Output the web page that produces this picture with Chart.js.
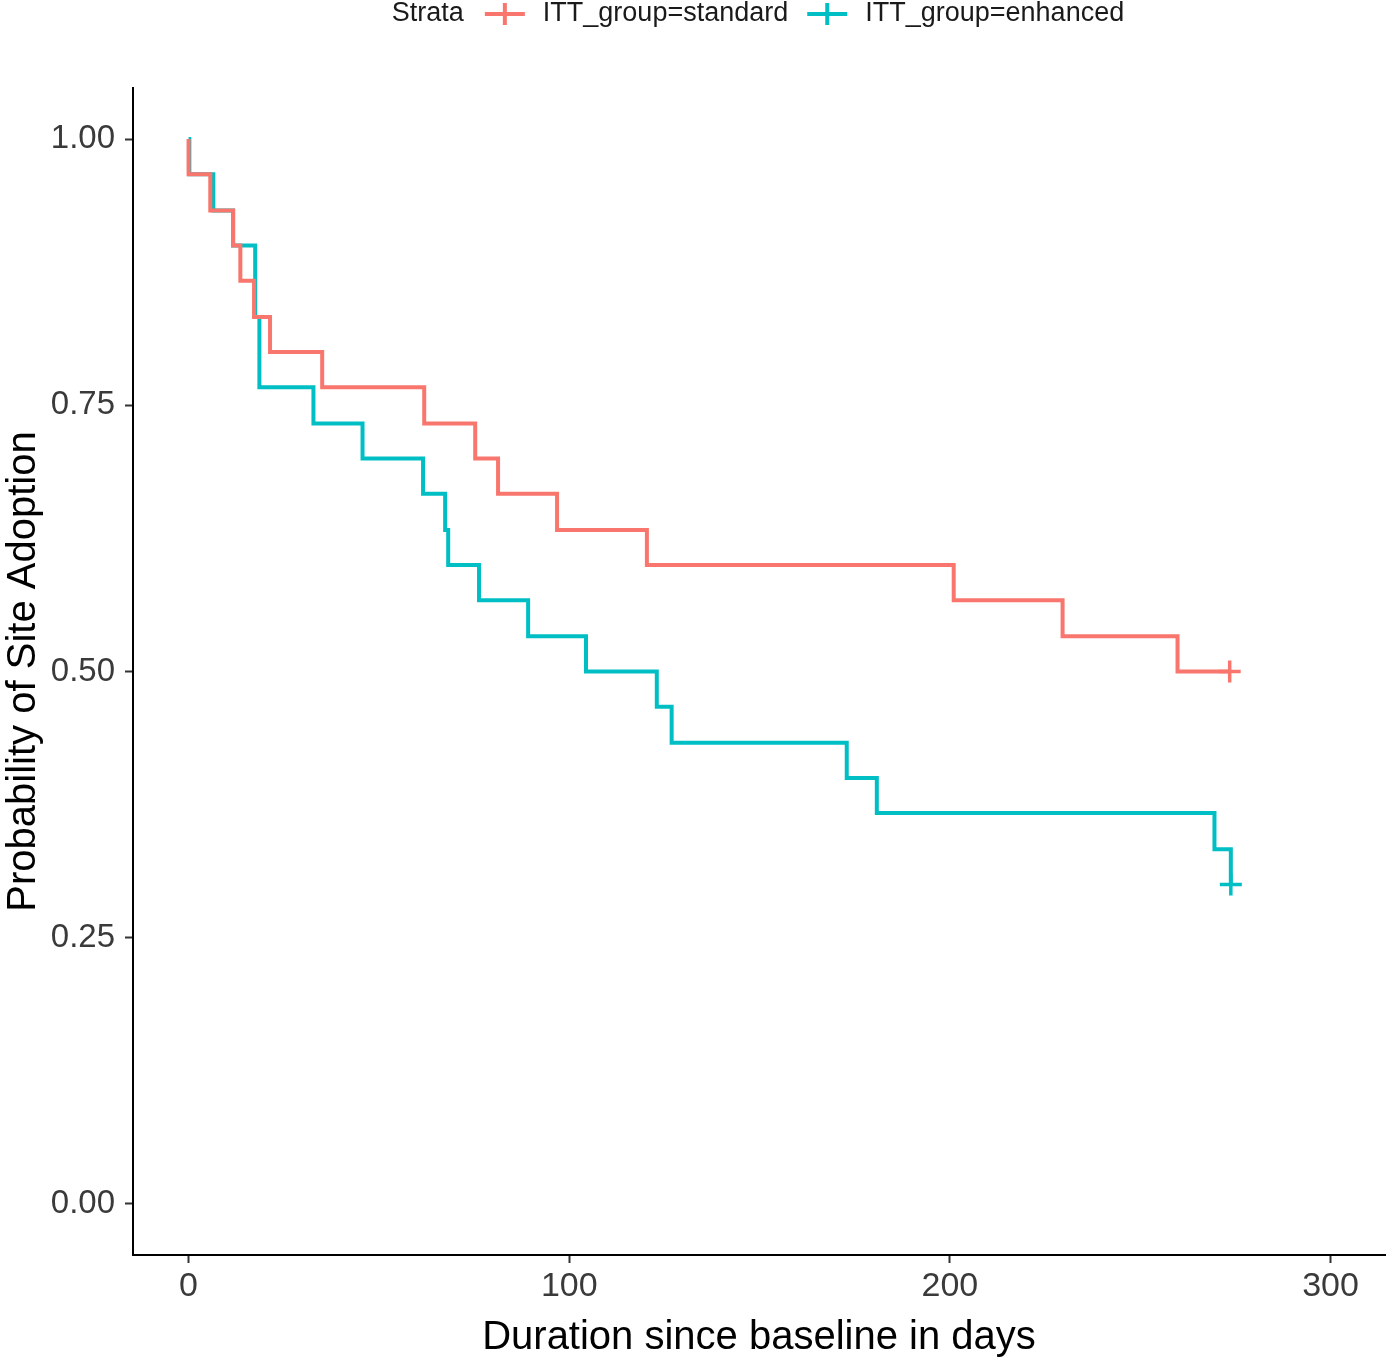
<!DOCTYPE html>
<html>
<head>
<meta charset="utf-8">
<script src="https://cdn.jsdelivr.net/npm/chart.js@4"></script>
<style>
  body { margin: 0; background: #fff; }
  #wrap { width: 1390px; height: 1362px; }
</style>
</head>
<body>
<div id="wrap"><canvas id="kmChart"></canvas></div>
<script>
// KM estimates (time in days, survival)
const stdTime = [0, 0, 5.7, 11.7, 13.6, 17.2, 21.4, 35.1, 61.9, 75.3, 81.3, 96.8, 120.4, 201, 229.6, 259.8, 273.5];
const stdSurv = [1, 0.967, 0.933, 0.9, 0.867, 0.833, 0.8, 0.767, 0.733, 0.7, 0.667, 0.633, 0.6, 0.567, 0.533, 0.5, 0.5];
const enhTime = [0, 0.2, 6.5, 11.7, 17.5, 18.6, 32.8, 45.7, 61.6, 67.4, 68.2, 76.3, 89.2, 104.4, 123, 126.9, 172.9, 180.8, 269.5, 273.8];
const enhSurv = [1, 0.967, 0.933, 0.9, 0.833, 0.767, 0.733, 0.7, 0.667, 0.633, 0.6, 0.567, 0.533, 0.5, 0.467, 0.433, 0.4, 0.367, 0.333, 0.3];
// censored observations
const stdCensor = [[273.5, 0.5]];
const enhCensor = [[273.8, 0.3]];

const xTicks = [0, 100, 200, 300];
const yTicks = [0, 0.25, 0.5, 0.75, 1];
const groups = ['ITT_group=standard', 'ITT_group=enhanced'];
const colors = ['#F8766D', '#00BFC4'];

const FONT = '"Liberation Sans", Arial, sans-serif';
const toPts = (t, s) => t.map((v, i) => ({x: v, y: s[i]}));

// legend drawn like ggplot: "Strata" then line+cross keys
const strataLegend = {
  id: 'strataLegend',
  afterDraw(chart) {
    const ctx = chart.ctx;
    const area = chart.chartArea;
    ctx.save();
    ctx.font = '27px ' + FONT;
    ctx.textBaseline = 'middle';
    const keyW = 40, gapA = 21, gapB = 18, gapC = 19;
    let total = ctx.measureText('Strata').width;
    groups.forEach((g, i) => { total += gapA + keyW + gapB + ctx.measureText(g).width; });
    let x = (area.left + area.right) / 2 - total / 2;
    const y = 14;
    ctx.fillStyle = '#1a1a1a';
    ctx.fillText('Strata', x, y);
    x += ctx.measureText('Strata').width + gapA;
    groups.forEach((g, i) => {
      ctx.strokeStyle = colors[i];
      ctx.lineWidth = 4;
      ctx.beginPath();
      ctx.moveTo(x, y); ctx.lineTo(x + keyW, y);
      ctx.moveTo(x + keyW / 2, y - 11); ctx.lineTo(x + keyW / 2, y + 11);
      ctx.stroke();
      x += keyW + gapB;
      ctx.fillStyle = '#1a1a1a';
      ctx.fillText(g, x, y);
      x += ctx.measureText(g).width + gapC;
    });
    ctx.restore();
  }
};

new Chart(document.getElementById('kmChart'), {
  type: 'line',
  data: {
    datasets: [
      {
        label: groups[0],
        data: toPts(stdTime, stdSurv),
        borderColor: colors[0],
        borderWidth: 4,
        stepped: 'before',
        pointRadius: 0
      },
      {
        label: groups[1],
        data: toPts(enhTime, enhSurv),
        borderColor: colors[1],
        borderWidth: 4,
        stepped: 'before',
        pointRadius: 0
      },
      {
        label: 'censor standard',
        data: stdCensor.map(c => ({x: c[0], y: c[1]})),
        showLine: false,
        pointStyle: 'cross',
        pointRadius: 11,
        pointBorderWidth: 3.5,
        borderColor: colors[0]
      },
      {
        label: 'censor enhanced',
        data: enhCensor.map(c => ({x: c[0], y: c[1]})),
        showLine: false,
        pointStyle: 'cross',
        pointRadius: 11,
        pointBorderWidth: 3.5,
        borderColor: colors[1]
      }
    ]
  },
  options: {
    responsive: true,
    maintainAspectRatio: false,
    animation: false,
    layout: { autoPadding: false, padding: { top: 88, right: 5, left: 0, bottom: 0 } },
    plugins: {
      legend: { display: false },
      tooltip: { enabled: false }
    },
    scales: {
      x: {
        type: 'linear',
        min: -14.6,
        max: 314.3,
        afterBuildTicks: s => { s.ticks = xTicks.map(v => ({value: v})); },
        afterFit: s => { s.height = 107; s.paddingLeft = 0; s.paddingRight = 0; },
        border: { display: true, color: '#000', width: 2 },
        grid: { drawOnChartArea: false, drawTicks: true, tickLength: 8, tickColor: '#333', tickWidth: 2 },
        ticks: { color: '#3a3a3a', font: { family: FONT, size: 34 }, padding: 3, maxRotation: 0 },
        title: { display: true, text: 'Duration since baseline in days', color: '#000',
                 font: { family: FONT, size: 40 }, padding: { top: 0, bottom: 0 } }
      },
      y: {
        type: 'linear',
        min: -0.048,
        max: 1.048,
        afterBuildTicks: s => { s.ticks = yTicks.map(v => ({value: v})); },
        afterFit: s => { s.width = 133; s.paddingTop = 0; s.paddingBottom = 0; },
        border: { display: true, color: '#000', width: 2 },
        grid: { drawOnChartArea: false, drawTicks: true, tickLength: 8, tickColor: '#333', tickWidth: 2 },
        ticks: { color: '#3a3a3a', font: { family: FONT, size: 33 }, padding: 10,
                 callback: v => v.toFixed(2) },
        title: { display: true, text: 'Probability of Site Adoption', color: '#000',
                 font: { family: FONT, size: 40 }, padding: { top: 0, bottom: 0 } }
      }
    }
  },
  plugins: [strataLegend]
});
</script>
</body>
</html>
